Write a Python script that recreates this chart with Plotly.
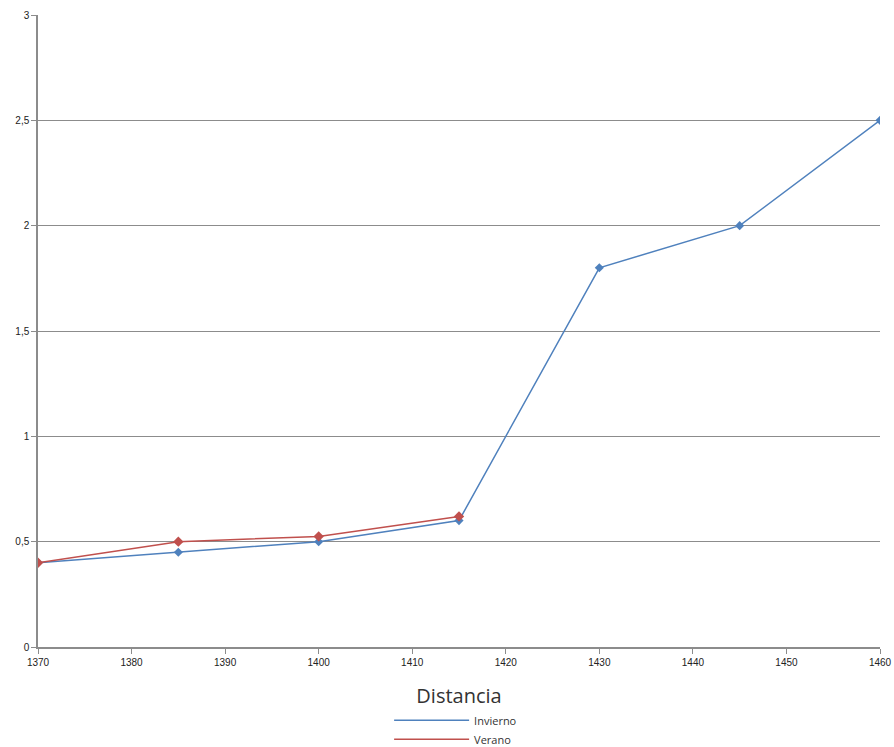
import plotly.graph_objects as go

x_invierno = [1370, 1385, 1400, 1415, 1430, 1445, 1460]
y_invierno = [0.4, 0.45, 0.5, 0.6, 1.8, 2.0, 2.5]
x_verano = [1370, 1385, 1400, 1415]
y_verano = [0.4, 0.5, 0.525, 0.62]

BLUE = "#4F81BD"
RED = "#C0504D"

fig = go.Figure()
fig.add_trace(go.Scatter(x=x_invierno, y=y_invierno, name="Invierno", mode="lines",
                         line=dict(color=BLUE, width=1.5), legendgroup="inv"))
fig.add_trace(go.Scatter(x=x_invierno, y=y_invierno, name="Invierno", mode="markers",
                         marker=dict(symbol="diamond", size=7, color=BLUE),
                         showlegend=False, legendgroup="inv"))
fig.add_trace(go.Scatter(x=x_verano, y=y_verano, name="Verano", mode="lines",
                         line=dict(color=RED, width=1.5), legendgroup="ver"))
fig.add_trace(go.Scatter(x=x_verano, y=y_verano, name="Verano", mode="markers",
                         marker=dict(symbol="diamond", size=8, color=RED),
                         showlegend=False, legendgroup="ver"))

fig.update_layout(
    width=894, height=747,
    margin=dict(l=38, r=14, t=15, b=100, autoexpand=False),
    plot_bgcolor="white", paper_bgcolor="white",
    separators=", ",
    font=dict(family="Liberation Sans", size=10, color="#222"),
    xaxis=dict(range=[1370, 1460], dtick=10, tick0=1370, showgrid=False,
               showline=True, linecolor="#8c8c8c", linewidth=1.5,
               ticks="outside", ticklen=5, tickcolor="#8c8c8c",
               tickfont=dict(size=10), automargin=False,
               title=dict(text="Distancia", font=dict(family="Open Sans", size=20, color="#333"), standoff=22)),
    yaxis=dict(range=[0, 3], dtick=0.5, showgrid=True, gridcolor="#8c8c8c", gridwidth=1,
               showline=True, linecolor="#8c8c8c", linewidth=1.5, zeroline=False,
               ticks="outside", ticklen=5, tickcolor="#8c8c8c",
               tickfont=dict(size=10), automargin=False),
    showlegend=True,
    legend=dict(x=0.417, y=-0.093, xanchor="left", yanchor="top", orientation="v",
                font=dict(family="Open Sans", size=11, color="#333"),
                itemwidth=75, tracegroupgap=0, bgcolor="rgba(0,0,0,0)"),
)

fig.write_html("out.html", config={"displayModeBar": False},
               post_script="document.body.style.margin='0';document.body.style.overflow='hidden';")
